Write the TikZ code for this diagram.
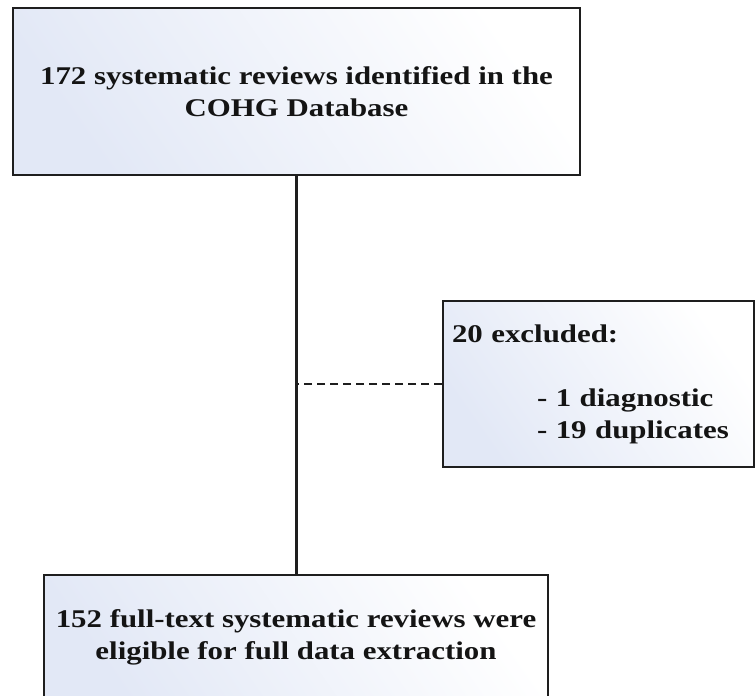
\documentclass[tikz,border=0pt]{standalone}
\usepackage{fontspec}
\setmainfont{Liberation Serif}[FakeStretch=1.21]
\usepackage{xcolor}
\usepackage{tikz}
\usetikzlibrary{positioning, shadings}
\definecolor{rvline}{RGB}{30,30,30}
\definecolor{rvshade}{RGB}{226,232,246}
\definecolor{rvtext}{RGB}{20,20,20}
\tikzset{
  revbox/.style  = {rectangle, draw=rvline, line width=1.8pt, text=rvtext,
                    left color=rvshade, right color=white, shading angle=125,
                    align=center, font=\fontsize{25.5}{32}\selectfont\bfseries,
                    inner sep=6pt},
  exclbox/.style = {revbox, align=left, text width=293pt, inner sep=9pt,
                    minimum width=311pt, minimum height=166pt},
  link/.style    = {line width=2.2pt, draw=rvline},
  exlink/.style  = {line width=2.2pt, draw=rvline, dash pattern=on 8pt off 5pt},
}

\begin{document}
\begin{tikzpicture}[x=1pt, y=1pt]
  \useasboundingbox (0,0) rectangle (755,696);
  \node[revbox, minimum width=567pt, minimum height=167pt] (ident) at (296.5,604.5)
    {172 systematic reviews identified in the\\COHG Database};
  \node[revbox, minimum width=504pt, minimum height=126pt, below=398pt of ident.south, anchor=north,
        xshift=-0.5pt] (elig)
    {152 full-text systematic reviews were\\eligible for full data extraction};
  \node[exclbox] (excl) at (598.5,312)
    {20 excluded:\\[32pt]\hspace*{85pt}- 1 diagnostic\\\hspace*{85pt}- 19 duplicates};
  \draw[link] (ident.south) -- (ident.south |- elig.north);
  \draw[exlink] (excl.west) -- (excl.west -| ident.south);
\end{tikzpicture}
\end{document}
